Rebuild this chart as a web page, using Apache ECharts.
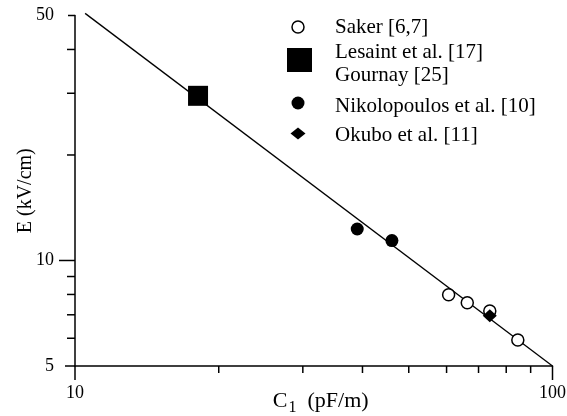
<!DOCTYPE html>
<html>
<head>
<meta charset="utf-8">
<script src="https://cdn.jsdelivr.net/npm/echarts@6/dist/echarts.min.js"></script>
<style>html,body{margin:0;padding:0;background:#fff}#c{width:567px;height:416px}</style>
</head>
<body>
<div id="c"></div>
<script>
// ---- data ----
const sakerC = [60.6, 66.3, 73.9, 84.6];
const sakerE = [7.98, 7.58, 7.18, 5.93];
const lesaintC = [18.1];
const lesaintE = [29.5];
const nikoC = [39.0, 46.1];
const nikoE = [12.3, 11.4];
const okuboC = [73.9];
const okuboE = [6.95];
const fitC = [10.5, 100];
const fitE = [50.7, 5];
const xTicksMajor = [10, 100];
const xTicksMinor = [20, 30, 40, 50, 60, 70, 80, 90];
const yTicksMajor = [5, 10, 50];
const yTicksMinor = [6, 7, 8, 9, 20, 30, 40];
const legendNames = ['Saker [6,7]', 'Lesaint et al. [17]\nGournay [25]', 'Nikolopoulos et al. [10]', 'Okubo et al. [11]'];

const FONT = '"Liberation Serif", "DejaVu Serif", serif';
const zip = (a, b) => a.map((v, i) => [v, b[i]]);

const X0 = 10, Y0 = 5;
const tickData = [];
xTicksMajor.forEach(v => tickData.push([v, Y0, 0, 1]));
xTicksMinor.forEach(v => tickData.push([v, Y0, 0, 0]));
yTicksMajor.forEach(v => tickData.push([X0, v, 1, 1]));
yTicksMinor.forEach(v => tickData.push([X0, v, 1, 0]));

function tickLen(dir, major, v) {
  if (dir === 0) return major ? 14 : 7;
  if (!major) return 8;
  if (v === 10) return 16;
  if (v === 5) return 10;
  return 7;
}

const chart = echarts.init(document.getElementById('c'), null, {renderer: 'canvas'});
const lx = 298, tx = 335;
const legText = (t, y) => ({type: 'text', x: tx, y: y,
  style: {text: t, fontFamily: FONT, fontSize: 21, fill: '#000', verticalAlign: 'middle', align: 'left'}});
chart.setOption({
  animation: false,
  backgroundColor: '#fff',
  textStyle: {fontFamily: FONT},
  grid: {left: 75, right: 14.5, top: 15.5, bottom: 50, containLabel: false, outerBoundsMode: 'none'},
  xAxis: {
    type: 'log', logBase: 10, min: 10, max: 100,
    name: '{c|C}{s|1}{c|  (pF/m)}',
    nameLocation: 'middle', nameGap: 35, nameMoveOverlap: false,
    nameTextStyle: {
      fontFamily: FONT, fontSize: 22, color: '#000', verticalAlign: 'middle', padding: [0, 0, 0, 14],
      rich: {
        c: {fontFamily: FONT, fontSize: 22, color: '#000'},
        s: {fontFamily: FONT, fontSize: 16, color: '#000', padding: [13, 0, 0, 1]}
      }
    },
    axisLine: {show: true, lineStyle: {color: '#000', width: 1.5}},
    axisTick: {show: false},
    splitLine: {show: false},
    axisLabel: {fontFamily: FONT, fontSize: 18, color: '#000', margin: 18,
      formatter: v => String(Math.round(v))}
  },
  yAxis: {
    type: 'log', logBase: 10, min: 5, max: 50,
    name: 'E (kV/cm)', nameLocation: 'middle', nameGap: 39, nameMoveOverlap: false,
    nameTextStyle: {fontFamily: FONT, fontSize: 20, color: '#000'},
    axisLine: {show: true, lineStyle: {color: '#000', width: 1.5}},
    axisTick: {show: false},
    splitLine: {show: false},
    axisLabel: {fontFamily: FONT, fontSize: 18, color: '#000', margin: 21,
      formatter: v => String(Math.round(v))}
  },
  series: [
    {
      type: 'custom', silent: true, clip: false, z: 1,
      data: tickData,
      renderItem: function (params, api) {
        const p = api.coord([api.value(0), api.value(1)]);
        const dir = api.value(2), major = api.value(3) === 1;
        const L = tickLen(dir, major, Math.round(dir === 0 ? api.value(0) : api.value(1)));
        const shape = dir === 0 ? {x1: p[0], y1: p[1], x2: p[0], y2: p[1] + L}
                                : {x1: p[0], y1: p[1], x2: p[0] - L, y2: p[1]};
        return {type: 'line', shape: shape, style: {stroke: '#000', lineWidth: 1.5}};
      }
    },
    {
      type: 'line', name: 'fit', data: zip(fitC, fitE), showSymbol: false, clip: false, silent: true,
      lineStyle: {color: '#000', width: 1.3}, z: 2
    },
    {
      type: 'scatter', name: legendNames[0], data: zip(sakerC, sakerE),
      symbol: 'circle', symbolSize: 12, z: 3,
      itemStyle: {color: '#fff', borderColor: '#000', borderWidth: 1.5, opacity: 1}
    },
    {
      type: 'scatter', name: legendNames[1], data: zip(lesaintC, lesaintE),
      symbol: 'rect', symbolSize: 20, z: 3,
      itemStyle: {color: '#000', opacity: 1}
    },
    {
      type: 'scatter', name: legendNames[2], data: zip(nikoC, nikoE),
      symbol: 'circle', symbolSize: 13, z: 3,
      itemStyle: {color: '#000', opacity: 1}
    },
    {
      type: 'scatter', name: legendNames[3], data: zip(okuboC, okuboE),
      symbol: 'diamond', symbolSize: [14, 13], z: 4,
      itemStyle: {color: '#000', opacity: 1}
    }
  ],
  graphic: [
    {type: 'circle', shape: {cx: lx, cy: 27, r: 6}, style: {fill: '#fff', stroke: '#000', lineWidth: 1.5}},
    {type: 'rect', shape: {x: 287, y: 48, width: 25, height: 24}, style: {fill: '#000'}},
    {type: 'circle', shape: {cx: lx, cy: 103, r: 6.5}, style: {fill: '#000'}},
    {type: 'polygon', shape: {points: [[lx, 127.5], [lx + 7.5, 133.5], [lx, 139.5], [lx - 7.5, 133.5]]}, style: {fill: '#000'}},
    legText(legendNames[0], 27),
    legText(legendNames[1].split('\n')[0], 52),
    legText(legendNames[1].split('\n')[1], 75),
    legText(legendNames[2], 106),
    legText(legendNames[3], 135)
  ]
});
</script>
</body>
</html>
